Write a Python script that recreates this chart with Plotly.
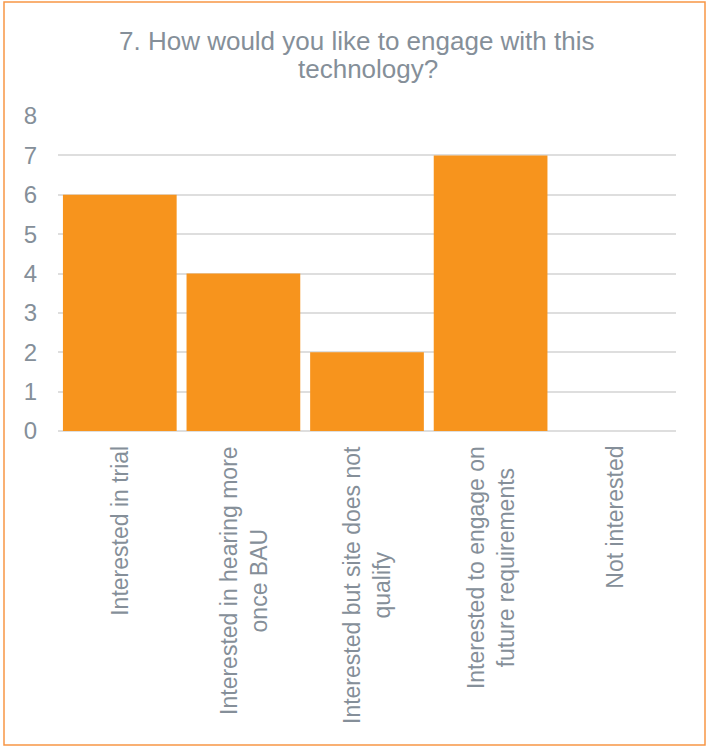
import plotly.graph_objects as go

categories = [
    "Interested in trial",
    "Interested in hearing more<br>once BAU",
    "Interested but site does not<br>qualify",
    "Interested to engage on<br>future requirements",
    "Not interested",
]
values = [6, 4, 2, 7, 0]
y_ticks = [0, 1, 2, 3, 4, 5, 6, 7, 8]
title_lines = ["7. How would you like to engage with this", "technology?"]

W, H = 708, 747
L, R, T, B = 58, 32, 116, 316
pw, ph = W - L - R, H - T - B

def px_x(x):
    return (x - L) / pw

def px_y(y):
    return (T + ph - y) / ph

fig = go.Figure(go.Bar(x=categories, y=values, marker=dict(color="#F7941D", line=dict(width=0))))

gray = "#858F99"

annotations = [
    dict(text=title_lines[0], xref="paper", yref="paper", x=px_x(357), y=px_y(41),
         xanchor="center", yanchor="middle", showarrow=False,
         font=dict(size=26, color=gray)),
    dict(text=title_lines[1], xref="paper", yref="paper", x=px_x(368), y=px_y(69),
         xanchor="center", yanchor="middle", showarrow=False,
         font=dict(size=26, color=gray)),
]
for c in categories:
    annotations.append(dict(text=c, xref="x", yref="paper", x=c, y=px_y(444),
                            xanchor="center", yanchor="top", textangle=-90, align="center",
                            showarrow=False, font=dict(size=23, color=gray)))

fig.update_layout(
    width=W, height=H,
    margin=dict(l=L, r=R, t=T, b=B),
    paper_bgcolor="white", plot_bgcolor="white",
    bargap=0.08,
    font=dict(family="Liberation Sans, Arial", color=gray),
    xaxis=dict(showticklabels=False, showgrid=False, showline=False, ticks=""),
    yaxis=dict(range=[0, 8], tickvals=y_ticks, tickfont=dict(size=24, color=gray),
               gridcolor="#DEDEDE", gridwidth=1.5, zeroline=True, zerolinecolor="#DEDEDE",
               zerolinewidth=1.5, showline=False, ticks="", ticklabelstandoff=20),
    showlegend=False,
    annotations=annotations,
    shapes=[dict(type="rect", xref="paper", yref="paper",
                 x0=px_x(4), x1=px_x(705), y0=px_y(745), y1=px_y(2),
                 line=dict(color="#F79646", width=1.5), fillcolor="rgba(0,0,0,0)", layer="below")],
)

fig.write_html("out.html")
